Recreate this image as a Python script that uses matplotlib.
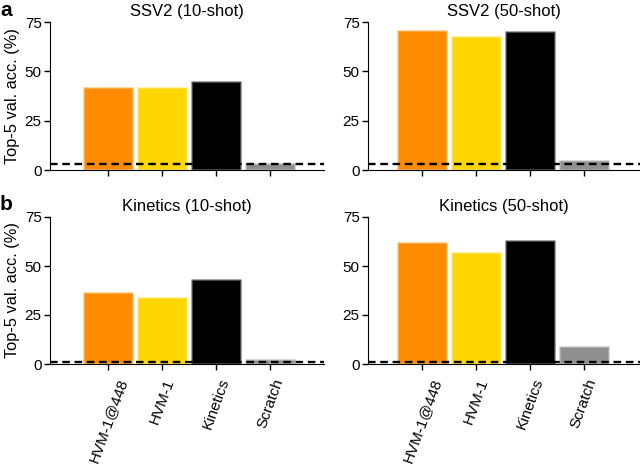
import matplotlib.pyplot as plt
import numpy as np

plt.rcParams["font.family"] = ["Liberation Sans", "DejaVu Sans"]
plt.rcParams["font.size"] = 11

models = ["HVM-1@448", "HVM-1", "Kinetics", "Scratch"]
colors = ["#FF8C00", "#FFD700", "#000000", "#8F8F8F"]

ssv2_10 = [41.9, 42.0, 45.3, 3.7]
ssv2_50 = [70.8, 67.9, 70.4, 4.9]
kin_10 = [36.8, 34.1, 43.3, 2.7]
kin_50 = [62.3, 57.0, 63.1, 9.0]

# chance level for top-5 accuracy
ssv2_chance = 5 / 174 * 100
kin_chance = 5 / 400 * 100

panels = [
    ("SSV2 (10-shot)", ssv2_10, ssv2_chance),
    ("SSV2 (50-shot)", ssv2_50, ssv2_chance),
    ("Kinetics (10-shot)", kin_10, kin_chance),
    ("Kinetics (50-shot)", kin_50, kin_chance),
]

fig = plt.figure(figsize=(6.4, 4.66), dpi=100)
W, H = 640, 466
boxes = [
    (50, 22, 324, 170),
    (368, 22, 640, 170),
    (50, 217, 324, 364),
    (368, 217, 640, 364),
]
xlims = [(-1.07, 4.0), (-1.0, 4.04), (-1.07, 4.0), (-1.0, 4.04)]

x = np.arange(len(models))
for i, ((title, vals, chance), (x0, y0, x1, y1)) in enumerate(zip(panels, boxes)):
    ax = fig.add_axes([x0 / W, 1 - y1 / H, (x1 - x0) / W, (y1 - y0) / H])
    ax.bar(x, vals, width=0.92, color=colors, edgecolor=(1, 1, 1, 0.3), linewidth=2)
    ax.axhline(chance, color="black", linestyle=(0, (3.2, 2.0)), linewidth=1.7, zorder=5)
    ax.set_xlim(*xlims[i])
    ax.set_ylim(0, 75)
    ax.set_yticks([0, 25, 50, 75])
    ax.set_xticks(x)
    ax.spines["top"].set_visible(False)
    ax.spines["right"].set_visible(False)
    ax.tick_params(length=4, width=1, pad=2, labelsize=11)
    ax.set_title(title, fontsize=12, pad=4)
    if i >= 2:
        ax.set_xticklabels(models, rotation=70, fontsize=11)
        ax.tick_params(axis="x", pad=5)
    else:
        ax.set_xticklabels([])
    if i % 2 == 0:
        ax.set_ylabel("Top-5 val. acc. (%)", fontsize=11.8, labelpad=3)

fig.text(0.0 / W, 1 - 11 / H, "a", fontsize=15, fontweight="bold", va="center")
fig.text(0.0 / W, 1 - 204 / H, "b", fontsize=15, fontweight="bold", va="center")

fig.savefig("out.png", dpi=100)
